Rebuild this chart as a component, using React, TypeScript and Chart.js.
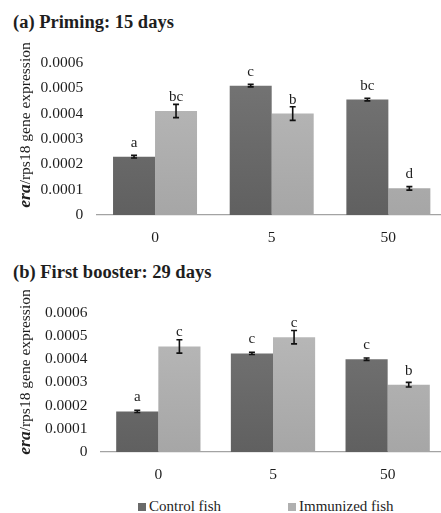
import React, { useEffect, useRef } from 'react';
import { Chart, registerables } from 'chart.js';
Chart.register(...registerables);

// ---------- data ----------
const categories = ['0', '5', '50'];
const seriesNames = ['Control fish', 'Immunized fish'];
const yMin = 0;
const yMax = 0.0006;
const yStep = 0.0001;

const primingControl = [0.00023, 0.00051, 0.000455];
const primingImmunized = [0.00041, 0.0004, 0.000105];
const primingControlErr = [0.000005, 0.000005, 0.000005];
const primingImmunizedErr = [0.000026, 0.000027, 0.000007];
const primingControlLetters = ['a', 'c', 'bc'];
const primingImmunizedLetters = ['bc', 'b', 'd'];

const boosterControl = [0.000175, 0.000425, 0.0004];
const boosterImmunized = [0.000455, 0.000495, 0.00029];
const boosterControlErr = [0.000005, 0.000005, 0.000005];
const boosterImmunizedErr = [0.000029, 0.000029, 0.00001];
const boosterControlLetters = ['a', 'c', 'c'];
const boosterImmunizedLetters = ['c', 'c', 'b'];

const panelTitles = ['(a) Priming: 15 days', '(b) First booster: 29 days'];

// ---------- styles ----------
const SERIF = '"Liberation Serif", "Times New Roman", serif';
const TEXT = '#1e1e1e';
const controlStops = ['#767676', '#606060'];
const immunizedStops = ['#bababa', '#a6a6a6'];

function gradient(stops: string[]) {
  return (ctx: any) => {
    const chart = ctx.chart;
    const area = chart.chartArea;
    if (!area) return stops[0];
    const g = chart.ctx.createLinearGradient(0, area.top, 0, area.bottom);
    g.addColorStop(0, stops[0]);
    g.addColorStop(1, stops[1]);
    return g;
  };
}

const errorPlugin = {
  id: 'errLetters',
  afterDatasetsDraw(chart: any, _args: any, opts: any) {
    const { ctx } = chart;
    const yScale = chart.scales.y;
    ctx.save();
    chart.data.datasets.forEach((ds: any, i: number) => {
      const meta = chart.getDatasetMeta(i);
      meta.data.forEach((el: any, j: number) => {
        const v = ds.data[j];
        const e = ds.errors[j];
        const x = el.x;
        const yt = yScale.getPixelForValue(v + e);
        const yb = yScale.getPixelForValue(v - e);
        ctx.strokeStyle = '#111';
        ctx.lineWidth = 1.6;
        ctx.beginPath();
        ctx.moveTo(x, yt);
        ctx.lineTo(x, yb);
        ctx.moveTo(x - 3, yt);
        ctx.lineTo(x + 3, yt);
        ctx.moveTo(x - 3, yb);
        ctx.lineTo(x + 3, yb);
        ctx.stroke();
        ctx.fillStyle = TEXT;
        ctx.font = `15px ${SERIF}`;
        ctx.textAlign = 'center';
        ctx.textBaseline = 'alphabetic';
        ctx.fillText(ds.letters[j], x, el.y - 10);
      });
    });
    ctx.restore();
  },
};

const yTitlePlugin = {
  id: 'yTitle',
  afterDraw(chart: any, _args: any, opts: any) {
    const { ctx } = chart;
    ctx.save();
    ctx.translate(opts.x, opts.y);
    ctx.rotate(-Math.PI / 2);
    ctx.fillStyle = TEXT;
    ctx.textBaseline = 'middle';
    ctx.textAlign = 'left';
    const f1 = `italic bold 17.5px ${SERIF}`;
    const f2 = `15.5px ${SERIF}`;
    const t1 = 'era';
    const t2 = '/rps18 gene expression';
    ctx.font = f1;
    const w1 = ctx.measureText(t1).width;
    ctx.font = f2;
    const w2 = ctx.measureText(t2).width;
    let x0 = -(w1 + w2) / 2;
    ctx.font = f1;
    ctx.fillText(t1, x0, 0);
    ctx.font = f2;
    ctx.fillText(t2, x0 + w1, 0);
    ctx.restore();
  },
};

type PanelCfg = {
  top: number;
  width: number;
  height: number;
  padTop: number;
  padRight: number;
  yWidth: number;
  xHeight: number;
  titleY: number;
  catPct: number;
  control: number[];
  immunized: number[];
  controlErr: number[];
  immunizedErr: number[];
  controlLetters: string[];
  immunizedLetters: string[];
};

function Panel({ cfg }: { cfg: PanelCfg }) {
  const ref = useRef<HTMLCanvasElement>(null);
  useEffect(() => {
    if (!ref.current) return;
    const chart = new Chart(ref.current, {
      type: 'bar',
      data: {
        labels: categories,
        datasets: [
          {
            label: seriesNames[0],
            data: cfg.control,
            errors: cfg.controlErr,
            letters: cfg.controlLetters,
            backgroundColor: gradient(controlStops),
            borderWidth: 0,
            categoryPercentage: cfg.catPct,
            barPercentage: 1,
          } as any,
          {
            label: seriesNames[1],
            data: cfg.immunized,
            errors: cfg.immunizedErr,
            letters: cfg.immunizedLetters,
            backgroundColor: gradient(immunizedStops),
            borderWidth: 0,
            categoryPercentage: cfg.catPct,
            barPercentage: 1,
          } as any,
        ],
      },
      options: {
        responsive: false,
        animation: false,
        layout: { padding: { left: 0, right: cfg.padRight, top: cfg.padTop, bottom: 0 } },
        plugins: {
          legend: { display: false },
          tooltip: { enabled: false },
          title: { display: false },
          yTitle: { x: 25.5, y: cfg.titleY },
        } as any,
        scales: {
          x: {
            grid: { display: false, drawTicks: false },
            border: { display: true, color: '#a3a3a3', width: 1.3 },
            ticks: { padding: 14, color: TEXT, font: { family: SERIF, size: 15.5 } },
            afterFit: (s: any) => {
              s.height = cfg.xHeight;
            },
          },
          y: {
            min: yMin,
            max: yMax,
            grid: { display: false, drawTicks: false },
            border: { display: false },
            ticks: {
              stepSize: yStep,
              padding: 13.5,
              color: TEXT,
              font: { family: SERIF, size: 15.5 },
              callback: (v: any) => (Math.abs(v) < 1e-12 ? '0' : Number(v).toFixed(4)),
            },
            afterFit: (s: any) => {
              s.width = cfg.yWidth;
            },
          },
        },
      },
      plugins: [errorPlugin, yTitlePlugin],
    });
    return () => chart.destroy();
  }, []);
  return (
    <canvas
      ref={ref}
      width={cfg.width}
      height={cfg.height}
      style={{ position: 'absolute', left: 0, top: cfg.top, width: cfg.width, height: cfg.height }}
    />
  );
}

const panelA: PanelCfg = {
  top: 40,
  width: 460,
  height: 210,
  padTop: 20,
  padRight: 13.3,
  yWidth: 96.7,
  xHeight: 35,
  titleY: 85,
  catPct: 0.72,
  control: primingControl,
  immunized: primingImmunized,
  controlErr: primingControlErr,
  immunizedErr: primingImmunizedErr,
  controlLetters: primingControlLetters,
  immunizedLetters: primingImmunizedLetters,
};

const panelB: PanelCfg = {
  top: 290,
  width: 460,
  height: 197,
  padTop: 19,
  padRight: 15,
  yWidth: 101,
  xHeight: 35,
  titleY: 82,
  catPct: 0.735,
  control: boosterControl,
  immunized: boosterImmunized,
  controlErr: boosterControlErr,
  immunizedErr: boosterImmunizedErr,
  controlLetters: boosterControlLetters,
  immunizedLetters: boosterImmunizedLetters,
};

const titleStyle = (top: number): React.CSSProperties => ({
  position: 'absolute',
  left: 13,
  top,
  fontFamily: SERIF,
  fontWeight: 'bold',
  fontSize: 18.5,
  lineHeight: 1,
  color: TEXT,
  whiteSpace: 'nowrap',
});

const legendText = (left: number): React.CSSProperties => ({
  position: 'absolute',
  left,
  top: 498.5,
  fontFamily: SERIF,
  fontSize: 15,
  lineHeight: 1,
  color: TEXT,
  whiteSpace: 'nowrap',
});

const legendBox = (left: number, color: string): React.CSSProperties => ({
  position: 'absolute',
  left,
  top: 503,
  width: 8,
  height: 8,
  background: color,
});

export default function App() {
  return (
    <div
      style={{
        position: 'fixed',
        left: 0,
        top: 0,
        width: 441,
        height: 513,
        overflow: 'hidden',
        background: '#ffffff',
      }}
    >
      <div style={titleStyle(12.5)}>{panelTitles[0]}</div>
      <Panel cfg={panelA} />
      <div style={titleStyle(262.5)}>{panelTitles[1]}</div>
      <Panel cfg={panelB} />
      <div style={legendBox(138, '#6a6a6a')} />
      <div style={legendText(149)}>{seriesNames[0]}</div>
      <div style={legendBox(288, '#b0b0b0')} />
      <div style={legendText(299)}>{seriesNames[1]}</div>
    </div>
  );
}
